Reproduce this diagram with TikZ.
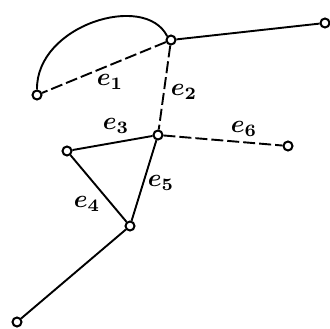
\documentclass[tikz,border=0pt]{standalone}
\usepackage{graphicx}
\begin{document}
\begin{tikzpicture}[x=1pt,y=-1pt,
  vert/.style={circle,draw,line width=2pt,fill=white,inner sep=0pt,minimum size=9pt},
  edge/.style={line width=1.9pt},
  dedge/.style={line width=1.9pt,dash pattern=on 12pt off 4pt},
  lab/.style={inner sep=0pt}]
\newcommand{\lbl}[1]{\scalebox{2.5}{\boldmath$#1$}}
\useasboundingbox (0,0) rectangle (330,329);
\coordinate (Ap) at (171,40);
\node[vert] (R) at (325,23) {};
\node[vert] (L) at (37,95) {};
\node[vert] (C) at (158,135) {};
\node[vert] (E) at (288,146) {};
\node[vert] (T) at (67,151) {};
\node[vert] (B) at (130,226) {};
\node[vert] (BL) at (17,322) {};
\node[vert] (A) at (Ap) {};
\draw[edge] (L.north) .. controls (36,25) and (145,-8) .. (A.north west);
\draw[edge] (A) -- (R);
\draw[dedge] (A) -- (L);
\draw[dedge] (A) -- (C);
\draw[dedge] (C) -- (E);
\draw[edge] (C) -- (T);
\draw[edge] (T) -- (B);
\draw[edge] (C) -- (B);
\draw[edge] (B) -- (BL);
\node[lab] (l1) at (110,82) {\lbl{e_1}};
\node[lab] (l2) at (184,92) {\lbl{e_2}};
\node[lab] (l3) at (116,126) {\lbl{e_3}};
\node[lab] (l6) at (244,129) {\lbl{e_6}};
\node[lab] (l5) at (161,183) {\lbl{e_5}};
\node[lab] (l4) at (87,204) {\lbl{e_4}};
\end{tikzpicture}
\end{document}
